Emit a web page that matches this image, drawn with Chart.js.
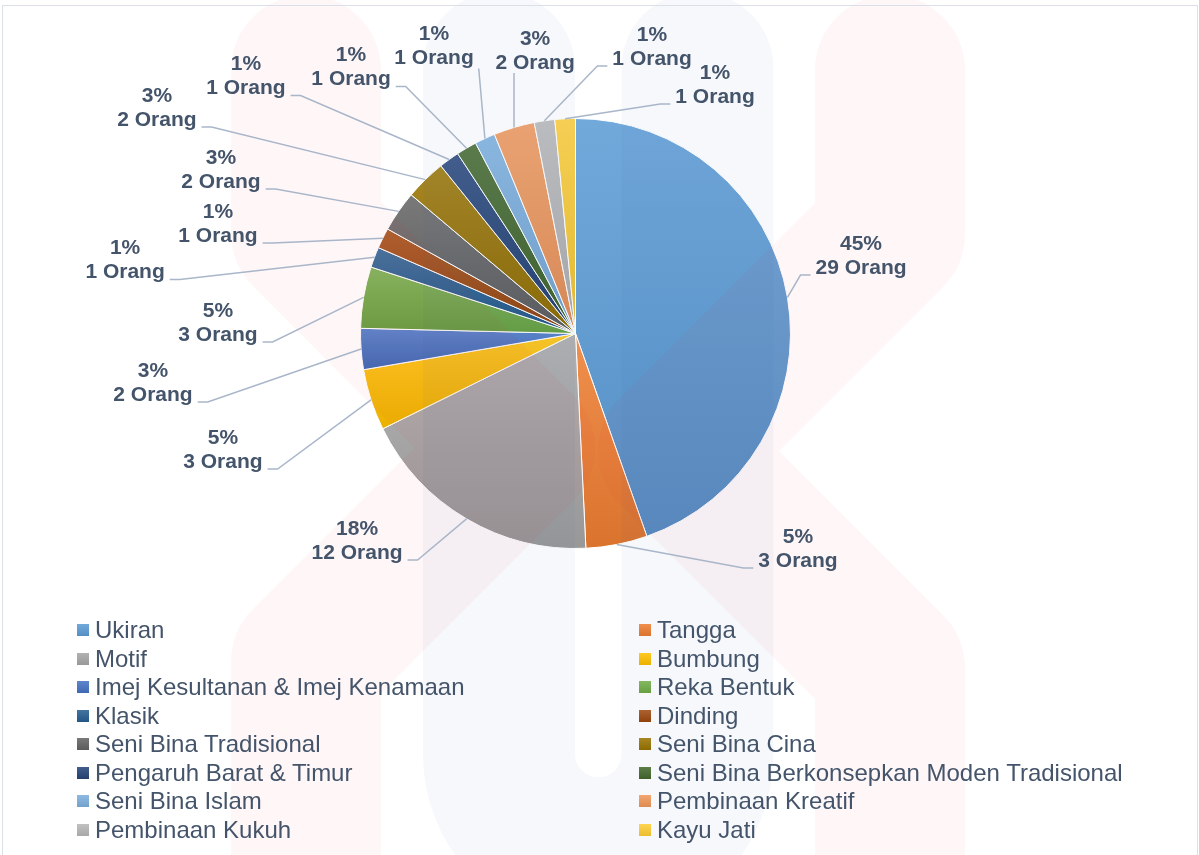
<!DOCTYPE html>
<html lang="ms">
<head>
  <meta charset="UTF-8">
  <title>Pie - Orang</title>
  <script src="https://cdn.jsdelivr.net/npm/chart.js"></script>
  <style>
    html, body { margin: 0; padding: 0; background: #fff; }
    body { width: 1199px; height: 855px; position: relative; overflow: hidden; font-family: "Liberation Sans", Arial, sans-serif; }
    canvas { position: absolute; left: 0; top: 0; }
    #frame { position: absolute; left: 2px; top: 5px; width: 1196px; height: 870px; border: 1px solid #dadfe8; box-sizing: border-box; pointer-events: none; }
    #legend { position: absolute; left: 77px; top: 616px; display: grid; grid-template-columns: 562px 540px; }
    .item { height: 28.5px; line-height: 28.5px; font-size: 24px; color: #44546a; white-space: nowrap; display: flex; align-items: center; }
    .sw { width: 12px; height: 12px; margin-right: 6px; flex: none; }
  </style>
</head>
<body>
  <canvas id="pie" width="1199" height="855"></canvas>
  <div id="frame"></div>
  <div id="legend"></div>

  <script>
    const categories = [
      'Ukiran', 'Tangga', 'Motif', 'Bumbung', 'Imej Kesultanan & Imej Kenamaan',
      'Reka Bentuk', 'Klasik', 'Dinding', 'Seni Bina Tradisional', 'Seni Bina Cina',
      'Pengaruh Barat & Timur', 'Seni Bina Berkonsepkan Moden Tradisional',
      'Seni Bina Islam', 'Pembinaan Kreatif', 'Pembinaan Kukuh', 'Kayu Jati'
    ];
    const counts = [29, 3, 12, 3, 2, 3, 1, 1, 2, 2, 1, 1, 1, 2, 1, 1];
    // percentages as printed on the chart
    const percentLabels = ['45%', '5%', '18%', '5%', '3%', '5%', '1%', '1%', '3%', '3%', '1%', '1%', '1%', '3%', '1%', '1%'];

    const colors = [
      '#5B9BD5', '#ED7D31', '#A5A5A5', '#FFC000', '#4472C4', '#70AD47',
      '#255E91', '#9E480E', '#636363', '#997300', '#264478', '#43682B',
      '#7CAFDD', '#F1975A', '#B7B7B7', '#FFCD33'
    ];

    // where each data label block sits, in pie radii from the pie centre
    const labelOffsets = [
      [1.328, -0.360], [1.035, 1.002], [-1.016, 0.965], [-1.640, 0.542],
      [-1.965, 0.230], [-1.663, -0.049], [-2.095, -0.340], [-1.663, -0.509],
      [-1.649, -0.760], [-1.947, -1.049], [-1.533, -1.195], [-1.044, -1.237],
      [-0.658, -1.335], [-0.188, -1.314], [0.356, -1.333], [0.649, -1.156]
    ];

    function shade(hex, f) {
      const n = parseInt(hex.slice(1), 16);
      const t = f < 0 ? 0 : 255, p = Math.abs(f);
      const ch = v => Math.round(v + (t - v) * p);
      return `rgb(${ch(n >> 16)},${ch((n >> 8) & 255)},${ch(n & 255)})`;
    }

    const total = counts.reduce((a, b) => a + b, 0);

    // vertical gradient over each slice's own height, like the office style
    function sliceFill(c) {
      const chart = c.chart, i = c.dataIndex, area = chart.chartArea;
      if (!area) return colors[i];
      const cx = (area.left + area.right) / 2, cy = (area.top + area.bottom) / 2;
      const r = Math.min(area.width, area.height) / 2;
      const before = counts.slice(0, i).reduce((a, b) => a + b, 0);
      const a0 = before / total * 2 * Math.PI - Math.PI / 2;
      const a1 = a0 + counts[i] / total * 2 * Math.PI;
      const ys = [cy, cy + r * Math.sin(a0), cy + r * Math.sin(a1)];
      [Math.PI / 2, 3 * Math.PI / 2].forEach(a => { if (a > a0 && a < a1) ys.push(cy + r * Math.sin(a)); });
      const g = chart.ctx.createLinearGradient(0, Math.min(...ys), 0, Math.max(...ys));
      g.addColorStop(0, shade(colors[i], 0.14));
      g.addColorStop(1, shade(colors[i], -0.08));
      return g;
    }

    // faint logo over the chart
    function drawWatermark(ctx) {
      ctx.save();
      ctx.lineCap = 'round';
      ctx.lineJoin = 'round';
      ctx.lineWidth = 152;
      ctx.strokeStyle = 'rgba(40,90,160,0.045)';
      ctx.beginPath();
      ctx.moveTo(499, 68);
      ctx.lineTo(499, 754);
      ctx.arc(598.25, 754, 99.25, Math.PI, 0, true);
      ctx.lineTo(697.5, 68);
      ctx.stroke();

      ctx.lineWidth = 150;
      ctx.strokeStyle = 'rgba(230,30,40,0.04)';
      ctx.beginPath();
      ctx.moveTo(306, 70); ctx.lineTo(306, 233); ctx.lineTo(520, 448); ctx.lineTo(306, 662); ctx.lineTo(306, 940);
      ctx.moveTo(890, 70); ctx.lineTo(890, 234); ctx.lineTo(673, 451); ctx.lineTo(890, 668); ctx.lineTo(890, 940);
      ctx.stroke();
      ctx.restore();
    }

    const outsideLabels = {
      id: 'outsideLabels',
      afterDatasetsDraw(chart) {
        const ctx = chart.ctx;
        drawWatermark(ctx);
        const arcs = chart.getDatasetMeta(0).data;
        ctx.save();
        ctx.font = 'bold 21px "Liberation Sans", Arial, sans-serif';
        ctx.textAlign = 'center';
        ctx.textBaseline = 'middle';
        ctx.strokeStyle = '#a9b6c9';
        ctx.lineWidth = 1.5;
        ctx.fillStyle = '#44546a';
        arcs.forEach((arc, i) => {
          const p = arc.getProps(['x', 'y', 'startAngle', 'endAngle', 'outerRadius'], true);
          const mid = (p.startAngle + p.endAngle) / 2;
          const sx = p.x + Math.cos(mid) * p.outerRadius;
          const sy = p.y + Math.sin(mid) * p.outerRadius;
          const lx = p.x + labelOffsets[i][0] * p.outerRadius;
          const ly = p.y + labelOffsets[i][1] * p.outerRadius;
          const l1 = percentLabels[i], l2 = counts[i] + ' Orang';
          const w = Math.max(ctx.measureText(l1).width, ctx.measureText(l2).width);
          const left = lx - w / 2, right = lx + w / 2, hy = ly + 19;
          ctx.beginPath();
          ctx.moveTo(sx, sy);
          if (sx > left - 15 && sx < right + 15) {
            ctx.lineTo(Math.min(Math.max(sx, left), right + 5), ly + 22);
          } else if (sx > right) {
            ctx.lineTo(right + 15, hy);
            ctx.lineTo(right + 5, hy);
          } else {
            ctx.lineTo(left - 15, hy);
            ctx.lineTo(left - 5, hy);
          }
          ctx.stroke();
          ctx.fillText(l1, lx, ly - 12);
          ctx.fillText(l2, lx, ly + 12);
        });
        ctx.restore();
      }
    };

    const chart = new Chart(document.getElementById('pie'), {
      type: 'pie',
      data: {
        labels: categories,
        datasets: [{
          data: counts,
          backgroundColor: sliceFill,
          borderColor: '#ffffff',
          borderWidth: 1
        }]
      },
      options: {
        responsive: false,
        devicePixelRatio: 1,
        animation: false,
        layout: { padding: { top: 118, bottom: 306, left: 0, right: 48 } },
        plugins: {
          legend: { display: false },
          tooltip: { enabled: false }
        }
      },
      plugins: [outsideLabels]
    });

    // two-column legend, filled row by row like the original
    const legendEl = document.getElementById('legend');
    categories.forEach((name, i) => {
      const item = document.createElement('div');
      item.className = 'item';
      const sw = document.createElement('span');
      sw.className = 'sw';
      sw.style.background = `linear-gradient(${shade(colors[i], 0.14)}, ${shade(colors[i], -0.08)})`;
      item.appendChild(sw);
      item.appendChild(document.createTextNode(name));
      legendEl.appendChild(item);
    });
  </script>
</body>
</html>
